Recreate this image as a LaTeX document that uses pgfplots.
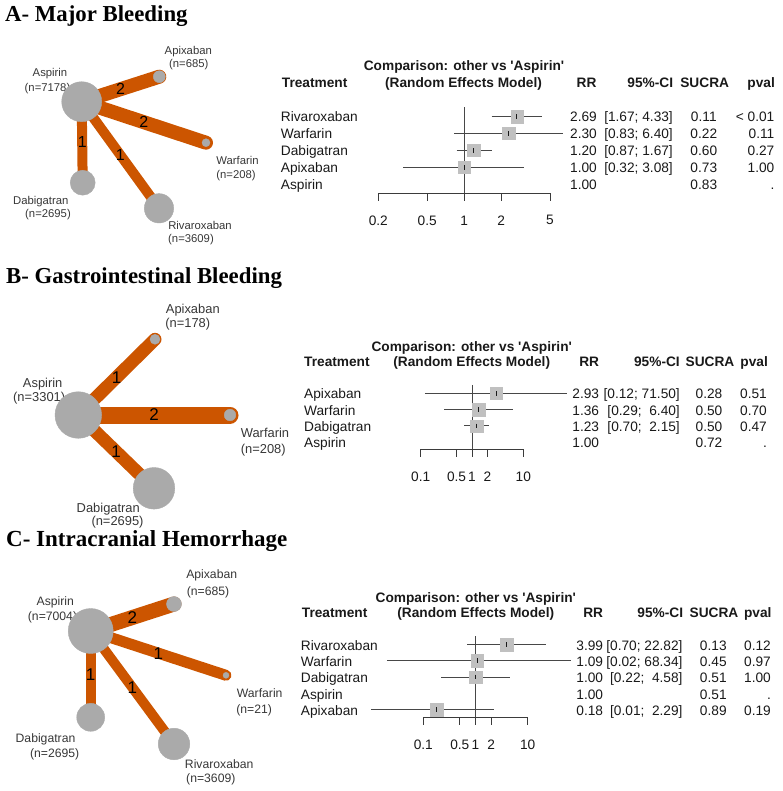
\documentclass[border=0pt]{standalone}
\usepackage{fontspec}
\setmainfont{Liberation Sans}
\newfontfamily\titlefont{Liberation Serif}
\usepackage{pgfplots}
\pgfplotsset{compat=1.18}

\definecolor{edgeorange}{RGB}{204,85,0}
\definecolor{nodegray}{RGB}{170,170,170}
\definecolor{sqgray}{RGB}{192,192,192}
\definecolor{ink}{RGB}{25,25,25}
\definecolor{labink}{RGB}{55,55,55}

\newcommand{\fsize}{\fontsize{13.7}{16}\selectfont}

\pgfplotsset{
  canvas/.style={scale only axis, width=782pt, height=791pt,
    xmin=0, xmax=782, ymin=0, ymax=791, y dir=reverse,
    hide axis, clip=false, at={(391pt,-395.5pt)}, anchor=center},
  netedge/.style={edgeorange, line cap=round, no markers},
  netnode/.style={scatter, only marks, mark=*, point meta={\thisrow{r}},
    scatter/use mapped color={draw=nodegray, fill=nodegray},
    visualization depends on={\thisrow{r}\as\noderad},
    scatter/@pre marker code/.append style={/tikz/mark size=\noderad}},
  fplot/.style={scale only axis, ymax=0, clip=false,
    axis x line*=bottom, axis y line=none,
    axis line style={-, ink!85, line width=1pt},
    tick align=outside, major tick length=7.5pt, xminorticks=false,
    xtick style={ink!85, line width=1pt},
    font=\fsize, /pgf/number format/assume math mode=true,
    xticklabel style={anchor=center, yshift=-19.5pt, text=ink},
    anchor=south west},
  ci/.style={ink!80, line width=1pt, no markers},
  sq/.style={only marks, mark=square*, mark size=6.2pt, sqgray},
  est/.style={only marks, mark=|, mark size=2.3pt, ink, line width=0.9pt},
}
\tikzset{
  ft/.style={font=\fsize, text=ink, inner sep=0pt, text height=9.9pt, text depth=0pt},
  fb/.style={ft, font=\fsize\bfseries},
  nl/.style 2 args={font=\fontsize{#1}{#1}\selectfont, text=labink, inner sep=0pt,
    text height=#2, text depth=0pt, anchor=center},
  elab/.style={font=\fontsize{#1}{#1}\selectfont, text=black, inner sep=0pt, anchor=center},
  ttl/.style={font=\titlefont\bfseries\fontsize{#1}{#1}\selectfont, text=black,
    inner sep=0pt, anchor=base west},
}

% one table row: y, name, RR, CI, SUCRA, pval (columns set by \cN \cR \cC \cS \cP)
\newcommand{\frow}[6]{%
  \node[ft,anchor=west] at (\cN,#1) {#2};
  \node[ft,anchor=east] at (\cR,#1) {#3};
  \node[ft,anchor=east] at (\cC,#1) {#4};
  \node[ft,anchor=center] at (\cS,#1) {#5};
  \node[ft,anchor=east] at (\cP,#1) {#6};}

\begin{document}
\begin{tikzpicture}
\useasboundingbox (0pt,0pt) rectangle (782pt,-791pt);

% ---------------- A: Major Bleeding ----------------
\def\cN{280.7}\def\cR{597}\def\cC{673}\def\cS{703.8}\def\cP{774.5}
\begin{axis}[canvas]
\node[ttl=22.8] at (5,21.7) {A- Major Bleeding};
\addplot[netedge, line width=14pt] coordinates {(81.7,101.7)(159.3,76.7)} node[pos=0.5, elab=16]{2};
\addplot[netedge, line width=14pt] coordinates {(81.7,101.7)(206,142.7)} node[pos=0.5, elab=16]{2};
\addplot[netedge, line width=10pt] coordinates {(81.7,101.7)(82.7,182.7)} node[pos=0.5, elab=16]{1};
\addplot[netedge, line width=10pt] coordinates {(81.7,101.7)(159,208.3)} node[pos=0.5, elab=16]{1};
\addplot[netnode] table {
x y r
81.7 101.7 20
159.3 76.7 6
206 142.7 4
82.7 182.7 12.5
159 208.3 14.7
};
\node[nl={11.3}{8.1pt}] at (50,72.7) {Aspirin};
\node[nl={11.3}{8.1pt}] at (47.5,87.3) {(n=7178)};
\node[nl={11.3}{8.1pt}] at (188.3,50.7) {Apixaban};
\node[nl={11.3}{8.1pt}] at (188.8,63.3) {(n=685)};
\node[nl={11.3}{8.1pt}] at (237.5,160.7) {Warfarin};
\node[nl={11.3}{8.1pt}] at (236,174) {(n=208)};
\node[nl={11.3}{8.1pt}] at (40.8,200.7) {Dabigatran};
\node[nl={11.3}{8.1pt}] at (48,213.3) {(n=2695)};
\node[nl={11.3}{8.1pt}] at (200,225) {Rivaroxaban};
\node[nl={11.3}{8.1pt}] at (191,238.3) {(n=3609)};
\node[fb, anchor=center] at (464,66) {Comparison: other vs \textquotesingle Aspirin\textquotesingle};
\node[fb, anchor=west] at (281.7,83) {Treatment};
\node[fb, anchor=center] at (463.5,83) {(Random Effects Model)};
\node[fb, anchor=east] at (596.7,83) {RR};
\node[fb, anchor=east] at (673.3,83) {95\%-CI};
\node[fb, anchor=center] at (704.7,83) {SUCRA};
\node[fb, anchor=east] at (775,83) {pval};
\frow{117}{Rivaroxaban}{2.69}{[1.67; 4.33]}{0.11}{< 0.01}
\frow{133.9}{Warfarin}{2.30}{[0.83; 6.40]}{0.22}{0.11}
\frow{150.8}{Dabigatran}{1.20}{[0.87; 1.67]}{0.60}{0.27}
\frow{167.7}{Apixaban}{1.00}{[0.32; 3.08]}{0.73}{1.00}
\frow{184.6}{Aspirin}{1.00}{}{0.83}{.}
\end{axis}

\begin{axis}[xmode=log, fplot, at={(378.3pt,-193.3pt)}, width=171.7pt, height=93.6pt,
  xmin=0.2, xmax=5, ymin=-5.54,
  xtick={0.2,0.5,1,2,5}, xticklabels={0.2,0.5,1,2,5}]
\addplot[ci] coordinates {(1,-0.45)(1,-5.54)};
\addplot[ci] coordinates {(1.67,-1)(4.33,-1)};
\addplot[ci] coordinates {(0.83,-2)(6.40,-2)};
\addplot[ci] coordinates {(0.87,-3)(1.67,-3)};
\addplot[ci] coordinates {(0.32,-4)(3.08,-4)};
\addplot[sq] coordinates {(2.69,-1)(2.30,-2)(1.20,-3)(1.00,-4)};
\addplot[est] coordinates {(2.69,-1)(2.30,-2)(1.20,-3)(1.00,-4)};
\end{axis}

% ---------------- B: Gastrointestinal Bleeding ----------------
\def\cN{304}\def\cR{599.3}\def\cC{680}\def\cS{709}\def\cP{767}
\begin{axis}[canvas]
\node[ttl=22.8] at (6,283.3) {B- Gastrointestinal Bleeding};
\addplot[netedge, line width=13pt] coordinates {(78.3,415)(155,339.3)} node[pos=0.5, elab=17]{1};
\addplot[netedge, line width=17pt] coordinates {(78.3,415)(230,415)} node[pos=0.5, elab=17]{2};
\addplot[netedge, line width=13pt] coordinates {(78.3,415)(154,488.3)} node[pos=0.5, elab=17]{1};
\addplot[netnode] table {
x y r
78.3 415 23.3
155 339.3 5
230 415 5.8
154 488.3 20.8
};
\node[nl={12.9}{9.3pt}] at (42.7,383.3) {Aspirin};
\node[nl={12.9}{9.3pt}] at (39.2,397.3) {(n=3301)};
\node[nl={12.9}{9.3pt}] at (192.8,309.3) {Apixaban};
\node[nl={12.9}{9.3pt}] at (187.8,323.3) {(n=178)};
\node[nl={12.9}{9.3pt}] at (265,433.3) {Warfarin};
\node[nl={12.9}{9.3pt}] at (263.3,449.3) {(n=208)};
\node[nl={12.9}{9.3pt}] at (108.3,508.3) {Dabigatran};
\node[nl={12.9}{9.3pt}] at (117.5,520.8) {(n=2695)};
\node[fb, anchor=center] at (471.7,346.7) {Comparison: other vs \textquotesingle Aspirin\textquotesingle};
\node[fb, anchor=west] at (304,361.7) {Treatment};
\node[fb, anchor=center] at (471.7,361.7) {(Random Effects Model)};
\node[fb, anchor=east] at (599.3,361.7) {RR};
\node[fb, anchor=east] at (680,361.7) {95\%-CI};
\node[fb, anchor=center] at (710,361.7) {SUCRA};
\node[fb, anchor=east] at (768,361.7) {pval};
\frow{393.8}{Apixaban}{2.93}{[0.12; 71.50]}{0.28}{0.51}
\frow{410.1}{Warfarin}{1.36}{[0.29;\ \ 6.40]}{0.50}{0.70}
\frow{426.4}{Dabigatran}{1.23}{[0.70;\ \ 2.15]}{0.50}{0.47}
\frow{442.7}{Aspirin}{1.00}{}{0.72}{.}
\end{axis}

\begin{axis}[xmode=log, fplot, at={(420.7pt,-449.3pt)}, width=102.6pt, height=72.3pt,
  xmin=0.1, xmax=10, ymin=-4.43,
  xtick={0.1,0.5,1,2,10}, xticklabels={0.1,0.5,1,2,10}]
\addplot[ci] coordinates {(1,-0.49)(1,-4.43)};
\addplot[ci] coordinates {(0.12,-1)(71.50,-1)};
\addplot[ci] coordinates {(0.29,-2)(6.40,-2)};
\addplot[ci] coordinates {(0.70,-3)(2.15,-3)};
\addplot[sq] coordinates {(2.93,-1)(1.36,-2)(1.23,-3)};
\addplot[est] coordinates {(2.93,-1)(1.36,-2)(1.23,-3)};
\end{axis}

% ---------------- C: Intracranial Hemorrhage ----------------
\def\cN{300.7}\def\cR{603.3}\def\cC{682.7}\def\cS{713.3}\def\cP{771}
\begin{axis}[canvas]
\node[ttl=23] at (6,546.7) {C- Intracranial Hemorrhage};
\addplot[netedge, line width=15pt] coordinates {(90.7,631)(174,604)} node[pos=0.5, elab=17]{2};
\addplot[netedge, line width=11pt] coordinates {(90.7,631)(226,675.3)} node[pos=0.5, elab=17]{1};
\addplot[netedge, line width=10pt] coordinates {(90.7,631)(90.7,717.3)} node[pos=0.5, elab=17]{1};
\addplot[netedge, line width=10pt] coordinates {(90.7,631)(174,744)} node[pos=0.5, elab=17]{1};
\addplot[netnode] table {
x y r
90.7 631 22.5
174 604 7.5
226 675.3 3
90.7 717.3 14
174 744 15.8
};
\node[nl={12.2}{8.8pt}] at (55.3,600.7) {Aspirin};
\node[nl={12.2}{8.8pt}] at (52.5,615.7) {(n=7004)};
\node[nl={12.2}{8.8pt}] at (211.7,574) {Apixaban};
\node[nl={12.2}{8.8pt}] at (208,590.7) {(n=685)};
\node[nl={12.2}{8.8pt}] at (259.7,693.3) {Warfarin};
\node[nl={12.2}{8.8pt}] at (254.2,709.3) {(n=21)};
\node[nl={12.2}{8.8pt}] at (45.5,738.3) {Dabigatran};
\node[nl={12.2}{8.8pt}] at (54.7,752.7) {(n=2695)};
\node[nl={12.2}{8.8pt}] at (219.2,764.3) {Rivaroxaban};
\node[nl={12.2}{8.8pt}] at (210.8,778.3) {(n=3609)};
\node[fb, anchor=center] at (475.8,597.3) {Comparison: other vs \textquotesingle Aspirin\textquotesingle};
\node[fb, anchor=west] at (301.7,612.7) {Treatment};
\node[fb, anchor=center] at (475.8,612.7) {(Random Effects Model)};
\node[fb, anchor=east] at (603.3,612.7) {RR};
\node[fb, anchor=east] at (683.3,612.7) {95\%-CI};
\node[fb, anchor=center] at (714,612.7) {SUCRA};
\node[fb, anchor=east] at (771.7,612.7) {pval};
\frow{645.5}{Rivaroxaban}{3.99}{[0.70; 22.82]}{0.13}{0.12}
\frow{661.75}{Warfarin}{1.09}{[0.02; 68.34]}{0.45}{0.97}
\frow{678}{Dabigatran}{1.00}{[0.22;\ \ 4.58]}{0.51}{1.00}
\frow{694.25}{Aspirin}{1.00}{}{0.51}{.}
\frow{710.5}{Apixaban}{0.18}{[0.01;\ \ 2.29]}{0.89}{0.19}
\end{axis}

\begin{axis}[xmode=log, fplot, at={(423.3pt,-717.3pt)}, width=104.4pt, height=89.05pt,
  xmin=0.1, xmax=10, ymin=-5.48,
  xtick={0.1,0.5,1,2,10}, xticklabels={0.1,0.5,1,2,10}]
\addplot[ci] coordinates {(1,-0.48)(1,-5.48)};
\addplot[ci] coordinates {(0.70,-1)(22.82,-1)};
\addplot[ci] coordinates {(0.02,-2)(68.34,-2)};
\addplot[ci] coordinates {(0.22,-3)(4.58,-3)};
\addplot[ci] coordinates {(0.01,-5)(2.29,-5)};
\addplot[sq] coordinates {(3.99,-1)(1.09,-2)(1.00,-3)(0.18,-5)};
\addplot[est] coordinates {(3.99,-1)(1.09,-2)(1.00,-3)(0.18,-5)};
\end{axis}
\end{tikzpicture}
\end{document}
